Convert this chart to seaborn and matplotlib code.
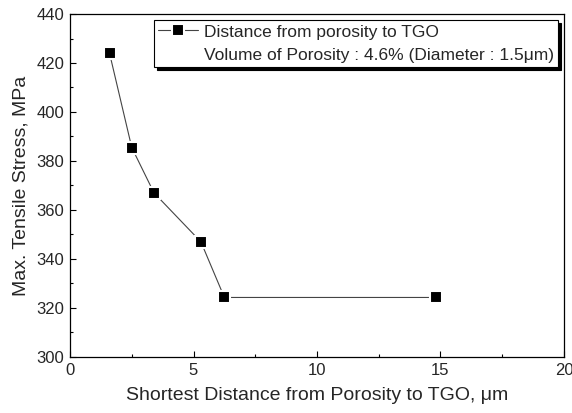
import matplotlib
matplotlib.use("Agg")
import matplotlib.pyplot as plt
from matplotlib.lines import Line2D
from matplotlib.ticker import MultipleLocator
import seaborn as sns
import pandas as pd

# Shortest distance from porosity to TGO (μm) and max. tensile stress (MPa)
distance = [1.6, 2.5, 3.4, 5.3, 6.25, 14.8]
stress = [424.0, 385.5, 367.0, 347.0, 324.3, 324.3]
series_label = "Distance from porosity to TGO"
note_label = "Volume of Porosity : 4.6% (Diameter : 1.5\u03bcm)"

sns.set_theme(style="ticks")
plt.rcParams["font.family"] = ["Liberation Sans", "DejaVu Sans"]

df = pd.DataFrame({"distance": distance, "stress": stress})

fig = plt.figure(figsize=(5.72, 4.13), dpi=100)
ax = fig.add_axes([0.1224, 0.1356, 0.8636, 0.8305])

sns.lineplot(data=df, x="distance", y="stress", ax=ax, estimator=None, sort=False,
             color="#444444", linewidth=0.8, marker="s", markersize=8.5,
             markerfacecolor="black", markeredgecolor="white", markeredgewidth=1.5)

ax.set_xlim(0, 20)
ax.set_ylim(300, 440)
ax.xaxis.set_major_locator(MultipleLocator(5))
ax.xaxis.set_minor_locator(MultipleLocator(2.5))
ax.yaxis.set_major_locator(MultipleLocator(20))
ax.yaxis.set_minor_locator(MultipleLocator(10))
ax.tick_params(which="both", direction="in", top=False, right=False, color="black")
ax.tick_params(which="major", length=4, width=0.8, labelsize=12, pad=4)
ax.tick_params(which="minor", length=2.5, width=0.8)
for s in ax.spines.values():
    s.set_color("black")
    s.set_linewidth(0.9)

ax.set_xlabel("Shortest Distance from Porosity to TGO, \u03bcm", fontsize=14, labelpad=7)
ax.set_ylabel("Max. Tensile Stress, MPa", fontsize=14, labelpad=5)

handles = [
    Line2D([], [], color="#444444", linewidth=0.8, marker="s", markersize=8.5,
           markerfacecolor="black", markeredgecolor="white", markeredgewidth=1.5),
    Line2D([], [], linestyle="none", marker=None),
]
leg = ax.legend(handles, [series_label, note_label], loc="upper right",
                fontsize=12.5, frameon=True, fancybox=False,
                shadow={"color": "black", "alpha": 1.0},
                edgecolor="black", framealpha=1, borderaxespad=0.35,
                handlelength=2.3, handletextpad=0.3, labelspacing=0.45,
                borderpad=0.25)
leg.get_frame().set_linewidth(0.8)

fig.savefig("out.png", dpi=100)
